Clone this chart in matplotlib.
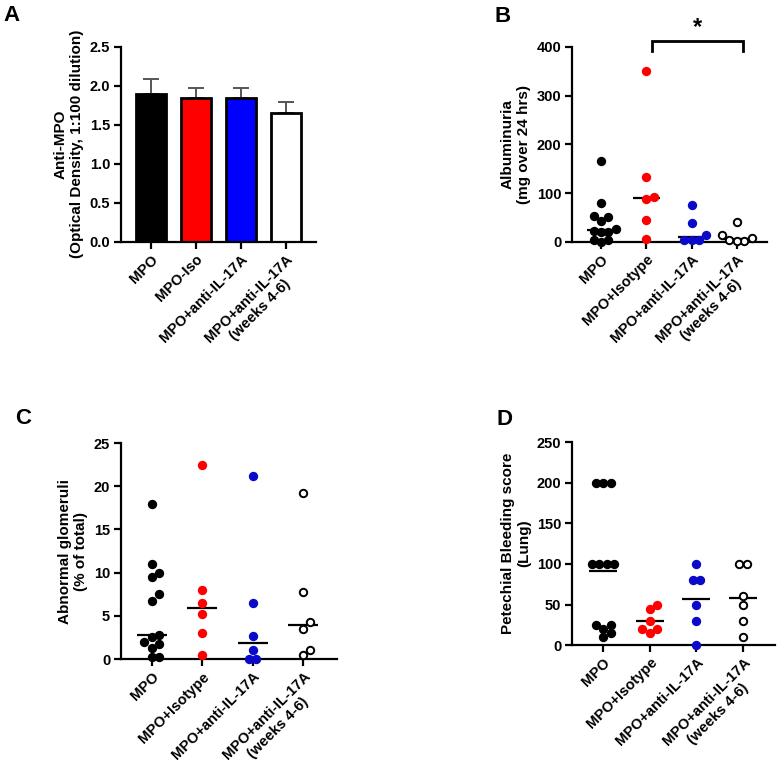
import matplotlib
matplotlib.use("Agg")
import matplotlib.pyplot as plt
import numpy as np

plt.rcParams["font.family"] = ["Liberation Sans", "DejaVu Sans"]
plt.rcParams["font.weight"] = "bold"

# ------------------------------------------------------------------
# Data
# ------------------------------------------------------------------
bar_labels = ["MPO", "MPO-Iso", "MPO+anti-IL-17A", "MPO+anti-IL-17A\n(weeks 4-6)"]
dot_labels = ["MPO", "MPO+Isotype", "MPO+anti-IL-17A", "MPO+anti-IL-17A\n(weeks 4-6)"]

anti_mpo_mean = [1.90, 1.84, 1.84, 1.65]
anti_mpo_err = [0.19, 0.13, 0.13, 0.14]

alb_mpo = [165, 80, 52, 50, 42, 26, 22, 21, 20, 4, 3, 0]
alb_iso = [350, 133, 92, 88, 45, 5]
alb_anti = [76, 38, 14, 4, 4, 3]
alb_wk = [40, 13, 7, 3, 2, 1]

glom_mpo = [18.0, 11.0, 10.0, 9.45, 7.5, 6.7, 2.8, 2.5, 2.0, 1.7, 1.3, 0.3, 0.2]
glom_iso = [22.5, 8.0, 6.5, 5.25, 3.0, 0.5]
glom_anti = [21.2, 6.5, 2.7, 1.0, 0.0, 0.0]
glom_wk = [19.2, 7.75, 4.3, 3.5, 1.0, 0.5]

bleed_mpo = [200, 200, 200, 100, 100, 100, 100, 25, 25, 20, 15, 10]
bleed_iso = [50, 45, 30, 20, 20, 15]
bleed_anti = [100, 80, 80, 50, 30, 0]
bleed_wk = [100, 100, 60, 50, 30, 10]

BAR_COLORS = ["black", "#ff0000", "#0000ff", "white"]
DOT_COLORS = ["black", "#ff0000", "#0a0ac8", "white"]

MARKER_PX = 7.4  # dot diameter in pixels


# ------------------------------------------------------------------
# Helpers
# ------------------------------------------------------------------
def style_axes(ax, labels, ylabel, ylim, yticks, yfmt="{:g}", labelpad=5):
    for side in ("top", "right"):
        ax.spines[side].set_visible(False)
    for side in ("left", "bottom"):
        ax.spines[side].set_linewidth(1.6)
    ax.set_ylim(*ylim)
    ax.set_yticks(yticks)
    ax.set_yticklabels([yfmt.format(t) for t in yticks])
    ax.set_xticks(range(len(labels)))
    ax.set_xticklabels(labels, rotation=45, ha="right", rotation_mode="anchor",
                       multialignment="center")
    ax.tick_params(direction="out", length=5, width=1.6, labelsize=10.5, pad=2.5)
    for lab in ax.get_xticklabels() + ax.get_yticklabels():
        lab.set_fontweight("bold")
    ax.set_ylabel(ylabel, fontsize=11, fontweight="bold", linespacing=1.2,
                  labelpad=labelpad)


def swarm_offsets(ax, values, xc):
    """Simple beeswarm: returns x positions (data units) avoiding overlap."""
    trans = ax.transData
    vals = np.asarray(values, dtype=float)
    order = np.argsort(vals, kind="stable")
    ypix = trans.transform(np.column_stack([np.full(len(vals), xc), vals]))[:, 1]
    x0 = trans.transform((xc, 0))[0]
    step = MARKER_PX
    cands = [0.0]
    for k in range(1, 8):
        cands += [k * step, -k * step]
    placed = []
    xpix = np.zeros(len(vals))
    for i in order:
        for c in cands:
            ok = all((c - px) ** 2 + (ypix[i] - py) ** 2 >= (step * 0.98) ** 2
                     for px, py in placed)
            if ok:
                xpix[i] = c
                placed.append((c, ypix[i]))
                break
    # center groups of tied values
    for v in np.unique(vals):
        idx = np.where(vals == v)[0]
        if len(idx) > 1:
            xpix[idx] -= xpix[idx].mean()
    inv = trans.inverted()
    return inv.transform(np.column_stack([x0 + xpix, np.zeros(len(vals))]))[:, 0]


def dot_panel(ax, groups, center_fn):
    size_pt = MARKER_PX * 72 / 100
    for i, vals in enumerate(groups):
        xs = swarm_offsets(ax, vals, i)
        face = DOT_COLORS[i]
        ax.scatter(xs, vals, s=size_pt ** 2, c=face,
                   edgecolors="black" if face == "white" else face,
                   linewidths=1.4, zorder=3, clip_on=False)
        m = center_fn(vals)
        ax.plot([i - 0.3, i + 0.3], [m, m], color="black", lw=1.6, zorder=2,
                solid_capstyle="butt")


# ------------------------------------------------------------------
# Figure
# ------------------------------------------------------------------
fig = plt.figure(figsize=(7.78, 7.80), dpi=100)

# Panel A -- bar chart
axA = fig.add_axes([0.155, 0.690, 0.251, 0.250])
axA.set_xlim(-0.667, 3.667)
axA.bar(range(4), anti_mpo_mean, width=0.66, color=BAR_COLORS,
        edgecolor="black", linewidth=2.0, zorder=2)
axA.errorbar(range(4), anti_mpo_mean, yerr=[[0] * 4, anti_mpo_err], fmt="none",
             ecolor="#555555", elinewidth=1.4, capsize=5.5, capthick=1.4, zorder=1)
style_axes(axA, bar_labels, "Anti-MPO\n(Optical Density, 1:100 dilution)",
           (0, 2.5), [0, 0.5, 1.0, 1.5, 2.0, 2.5], "{:.1f}", labelpad=4)

# Panel B -- albuminuria
axB = fig.add_axes([0.735, 0.690, 0.251, 0.250])
axB.set_xlim(-0.645, 3.67)
style_axes(axB, dot_labels, "Albuminuria\n(mg over 24 hrs)",
           (0, 400), [0, 100, 200, 300, 400], labelpad=4)
dot_panel(axB, [alb_mpo, alb_iso, alb_anti, alb_wk], np.median)
bx0, bx1, by_top, by_low = 1.13, 3.13, 411, 391
axB.plot([bx0, bx0, bx1, bx1], [by_low, by_top, by_top, by_low], color="black",
         lw=2.0, clip_on=False, solid_joinstyle="miter")
axB.text((bx0 + bx1) / 2, 416, "*", ha="center", va="bottom", fontsize=17,
         fontweight="bold")

# Panel C -- abnormal glomeruli
axC = fig.add_axes([0.155, 0.155, 0.278, 0.277])
axC.set_xlim(-0.62, 3.67)
style_axes(axC, dot_labels, "Abnormal glomeruli\n(% of total)",
           (0, 25), [0, 5, 10, 15, 20, 25], labelpad=4)
dot_panel(axC, [glom_mpo, glom_iso, glom_anti, glom_wk], np.median)

# Panel D -- petechial bleeding
axD = fig.add_axes([0.735, 0.173, 0.261, 0.260])
axD.set_xlim(-0.67, 3.68)
style_axes(axD, dot_labels, "Petechial Bleeding score\n(Lung)",
           (0, 250), [0, 50, 100, 150, 200, 250], labelpad=4)
dot_panel(axD, [bleed_mpo, bleed_iso, bleed_anti, bleed_wk], np.mean)

# Panel letters
for letter, (x, y) in zip("ABCD", [(0.005, 0.973), (0.636, 0.972),
                                   (0.019, 0.457), (0.638, 0.455)]):
    fig.text(x, y, letter, fontsize=16, fontweight="bold", va="baseline", ha="left")

fig.savefig("out.png", dpi=100)
